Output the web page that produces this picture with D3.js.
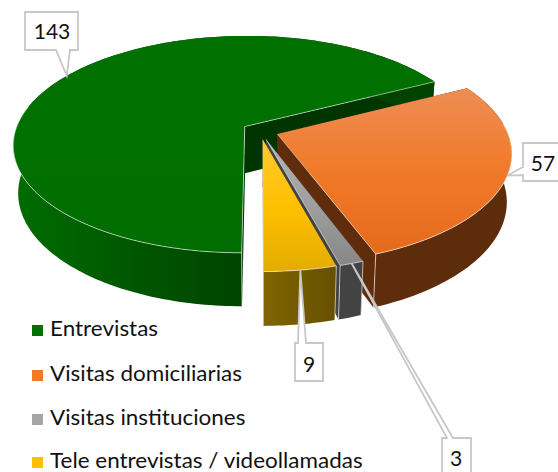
<!DOCTYPE html>
<html><head><meta charset="utf-8">
<style>html,body{margin:0;padding:0;background:#fff;overflow:hidden}svg{display:block}text{font-family:Lato,Carlito,sans-serif;fill:#111}</style>
<script src="https://cdn.jsdelivr.net/npm/d3@7"></script>
</head><body><svg id="c" width="558" height="472"></svg>
<script>
const categories = ["Entrevistas","Visitas domiciliarias","Visitas instituciones","Tele entrevistas / videollamadas"];
const values = [143,57,3,9];

const W=558,H=472,K=0.165,EXPLODE=0.08,SHRINK=0.02,DEPTH=47;
const xS=d3.scaleLinear().domain([-1,1]).range([260.3-229.5,260.3+229.5]);
const yS=d3.scaleLinear().domain([-1,1]).range([131-107,131+107]);
const styles=[
 {stops:["#007000","#007000","#006e00"],wall:"#003500",side:["#006c00","#004300"]},
 {stops:["#EE8D54","#F17A29","#E46B1C"],wall:"#5F2D0C",side:["#5F2D0C","#5C2C0B"]},
 {stops:["#B4B4B4","#A0A0A0","#878787"],wall:"#434343",side:["#434343","#434343"]},
 {stops:["#FFC933","#FFC000","#E3AC00"],wall:"#6B5500",side:["#806500","#665000"]}
];
const legendColors=["#007000","#F17A29","#A5A5A5","#FFC000"];
const boxes=[
 {x0:25,x1:78,y0:12,y1:50,side:"bottom",a:56,b:70,tx:52,ty:39},
 {x0:523,x1:570,y0:143,y1:181,side:"left",a:167,b:175,tx:543,ty:171},
 {x0:442,x1:471,y0:438,y1:480,side:"top",a:447,b:453,tx:456,ty:466},
 {x0:295,x1:323,y0:343,y1:381,side:"top",a:298,b:306,tx:309,ty:372}
];
const legendY=[336,381,425,468];

const svg=d3.select("#c");
const defs=svg.append("defs");
const pie=d3.pie().sort(null).startAngle(Math.PI).endAngle(3*Math.PI);
const arcs=pie(values);
const line=d3.line();

function project(a,r,s,bottom){
  const mid=(s.startAngle+s.endAngle)/2;
  const X=EXPLODE*Math.sin(mid)+r*Math.sin(a), Y=-EXPLODE*Math.cos(mid)-r*Math.cos(a);
  const p=1/(1-K*Y), sh=bottom?1-SHRINK:1;
  return [xS(X*p*sh), yS(Y*p*sh)+(bottom?DEPTH*p:0)];
}
function rim(s,bottom){
  const n=Math.max(4,Math.ceil((s.endAngle-s.startAngle)/0.02));
  return d3.range(n+1).map(i=>project(s.startAngle+(s.endAngle-s.startAngle)*i/n,1,s,bottom));
}
arcs.forEach((s,i)=>{
  const st=styles[i], top=rim(s,false), bot=rim(s,true);
  const apexT=project(0,0,s,false), apexB=project(0,0,s,true);
  const ys=top.concat([apexT]).map(d=>d[1]), y0=d3.min(ys), y1=d3.max(ys);
  const gTop=defs.append("linearGradient").attr("id","t"+i).attr("gradientUnits","userSpaceOnUse")
    .attr("x1",0).attr("x2",0).attr("y1",y0).attr("y2",y1);
  st.stops.forEach((c,k)=>gTop.append("stop").attr("offset",[0,.5,1][k]).attr("stop-color",c));
  const xs=bot.map(d=>d[0]);
  let sx0=d3.min(xs), sx1=d3.max(xs);
  if(i===0){sx1=project(Math.PI,1,s,true)[0];}
  const gSide=defs.append("linearGradient").attr("id","s"+i).attr("gradientUnits","userSpaceOnUse")
    .attr("x1",sx0).attr("x2",sx1).attr("y1",0).attr("y2",0);
  st.side.forEach((c,k)=>gSide.append("stop").attr("offset",k).attr("stop-color",c));

  const g=svg.append("g");
  [s.startAngle,s.endAngle].forEach(a=>{
    const pT=project(a,1,s,false), pB=project(a,1,s,true);
    g.append("path").attr("d",line([apexT,pT,pB,apexB])+"Z").attr("fill",st.wall);
  });
  g.append("path").attr("d",line(top.concat(bot.slice().reverse()))+"Z").attr("fill",`url(#s${i})`);
  [s.startAngle,s.endAngle].forEach(a=>{
    const pT=project(a,1,s,false), pB=project(a,1,s,true);
    if(Math.cos(a)<-0.5) g.append("path").attr("d",line([pT,pB])).attr("stroke","#fff").attr("stroke-opacity",.6).attr("stroke-width",1).attr("fill","none");
  });
  g.append("path").attr("d",line([apexT].concat(top))+"Z").attr("fill",`url(#t${i})`);
  const angleAt=k=>s.startAngle+(s.endAngle-s.startAngle)*k/(top.length-1);
  const front=top.filter((d,k)=>i===0?angleAt(k)<Math.PI*1.56:Math.cos(angleAt(k))<0.1);
  const edge=(pts,op)=>g.append("path").attr("d",line(pts)).attr("fill","none").attr("stroke","#fff").attr("stroke-opacity",op).attr("stroke-width",1);
  edge(front,.58);
  if(i===0) edge([project(s.endAngle,1,s,false),apexT,project(s.startAngle,1,s,false)],.55);
  else edge([apexT,project(s.endAngle,1,s,false)],i===3?.25:.5);
});

arcs.forEach((s,i)=>{
  const b=boxes[i], tip=project((s.startAngle+s.endAngle)/2,1,s,false);
  let pts;
  if(b.side==="left") pts=[[b.x0,b.y0],[b.x1,b.y0],[b.x1,b.y1],[b.x0,b.y1],[b.x0,b.b],tip,[b.x0,b.a]];
  else if(b.side==="bottom") pts=[[b.x0,b.y0],[b.x1,b.y0],[b.x1,b.y1],[b.b,b.y1],tip,[b.a,b.y1],[b.x0,b.y1]];
  else pts=[[b.x0,b.y0],[b.a,b.y0],tip,[b.b,b.y0],[b.x1,b.y0],[b.x1,b.y1],[b.x0,b.y1]];
  svg.append("path").attr("d",line(pts)+"Z").attr("fill","#fff").attr("stroke","#c8c8c8").attr("stroke-width",1.8);
  svg.append("text").attr("x",b.tx).attr("y",b.ty).attr("text-anchor","middle").attr("font-size",21).text(values[i]);
});

categories.forEach((c,i)=>{
  svg.append("rect").attr("x",32).attr("y",legendY[i]-11).attr("width",11).attr("height",11).attr("fill",legendColors[i]);
  svg.append("text").attr("transform",`translate(50,${legendY[i]}) scale(1.07,1)`).attr("font-size",21).text(c);
});
</script></body></html>
